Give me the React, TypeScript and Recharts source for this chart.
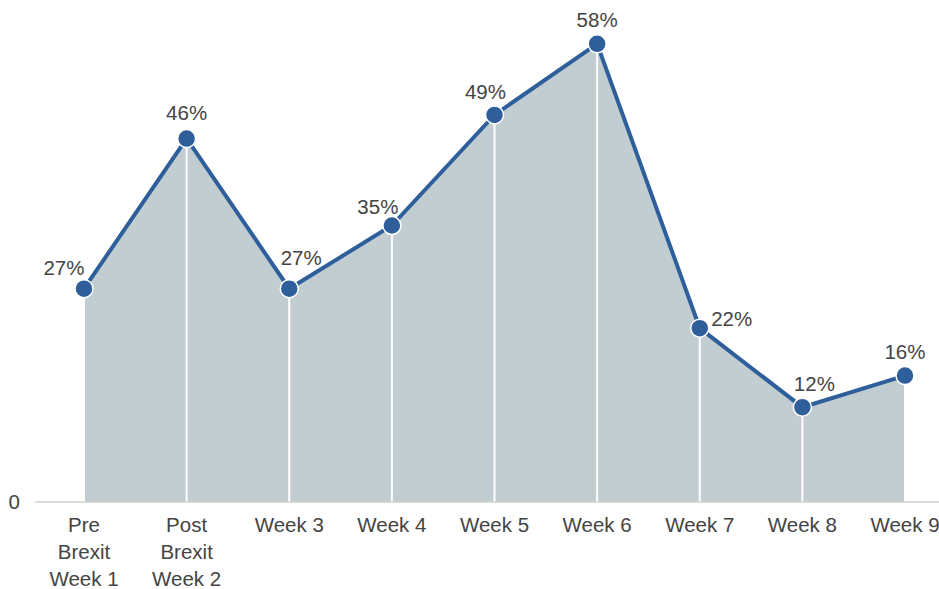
import React from "react";
import {
  ComposedChart,
  Area,
  Line,
  XAxis,
  YAxis,
  ErrorBar,
  LabelList,
} from "recharts";

const weeks = [
  "Pre\nBrexit\nWeek 1",
  "Post\nBrexit\nWeek 2",
  "Week 3",
  "Week 4",
  "Week 5",
  "Week 6",
  "Week 7",
  "Week 8",
  "Week 9",
];
const shares = [27, 46, 27, 35, 49, 58, 22, 12, 16];

// label nudges so the percentages sit clear of the line
const labelDx = [-20, 0, 12, -14, -9, 0, 32, 12, 0];
const labelDy = [-21, -26, -31, -19, -23, -24, -10, -24, -24];

const data = weeks.map((week, i) => ({
  week,
  value: shares[i],
  drop: [shares[i], 0],
}));

const FONT = "'Liberation Sans', Arial, Helvetica, sans-serif";
const TEXT = "#444444";
const BLUE = "#2f5f9b";
const FILL = "#c1cdd1";

function WeekTick({ x, y, payload }: any) {
  const lines = String(payload.value).split("\n");
  return (
    <text
      x={x}
      y={y}
      textAnchor="middle"
      fill={TEXT}
      fontSize={20.5}
      fontFamily={FONT}
    >
      {lines.map((line, i) => (
        <tspan key={i} x={x} dy={i === 0 ? 30 : 27}>
          {line}
        </tspan>
      ))}
    </text>
  );
}

function PctLabel({ x, y, value, index }: any) {
  return (
    <text
      x={x + labelDx[index]}
      y={y + labelDy[index]}
      textAnchor="middle"
      dominantBaseline="central"
      fill={TEXT}
      fontSize={20.5}
      fontFamily={FONT}
    >
      {value}%
    </text>
  );
}

export default function App() {
  return (
    <div
      style={{
        position: "absolute",
        left: 0,
        top: 0,
        width: 939,
        height: 589,
        overflow: "hidden",
        background: "#fff",
      }}
    >
      <ComposedChart
        width={939}
        height={589}
        data={data}
        margin={{ top: 28, right: 0, bottom: 0, left: 0 }}
      >
        <XAxis
          dataKey="week"
          padding={{ left: 49, right: 34 }}
          height={87}
          tickLine={false}
          tickSize={0}
          tickMargin={0}
          interval={0}
          axisLine={{ stroke: "#cfcfcf", strokeWidth: 1.5 }}
          tick={<WeekTick />}
        />
        <YAxis
          width={35}
          domain={[0, 60]}
          ticks={[0]}
          axisLine={false}
          tickLine={false}
          tickSize={0}
          tickMargin={15}
          tick={{ fill: TEXT, fontSize: 20.5, fontFamily: FONT }}
        />
        <Area
          type="linear"
          dataKey="value"
          fill={FILL}
          fillOpacity={1}
          stroke="#ffffff"
          strokeWidth={2.5}
          isAnimationActive={false}
        />
        <Line
          type="linear"
          dataKey="value"
          stroke="none"
          dot={false}
          activeDot={false}
          isAnimationActive={false}
        >
          <ErrorBar dataKey="drop" width={0} stroke="#ffffff" strokeWidth={2} />
        </Line>
        <Line
          type="linear"
          dataKey="value"
          stroke={BLUE}
          strokeWidth={4}
          dot={{ r: 9, fill: BLUE, stroke: "#ffffff", strokeWidth: 1.5 }}
          activeDot={false}
          isAnimationActive={false}
        >
          <LabelList dataKey="value" content={<PctLabel />} />
        </Line>
      </ComposedChart>
    </div>
  );
}
